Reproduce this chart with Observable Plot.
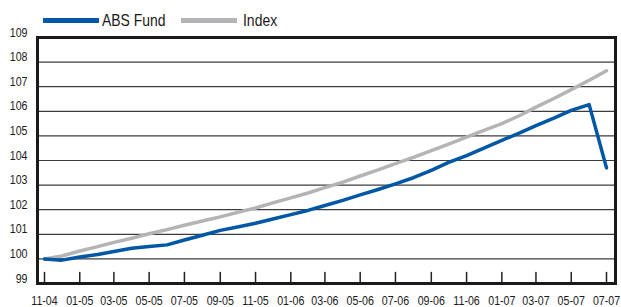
<!DOCTYPE html>
<html><head><meta charset="utf-8">
<script src="https://cdn.jsdelivr.net/npm/d3@7"></script>
<script src="https://cdn.jsdelivr.net/npm/@observablehq/plot@0.6"></script>
<style>
body{margin:0;background:#fff;font-family:"Liberation Sans",Arial,sans-serif;}
#legend{position:relative;height:25px;width:621px;}
.sw{position:absolute;top:18px;height:5px;}
.lt{position:absolute;top:11px;font-size:17px;line-height:20px;color:#1a1a1a;transform:scaleX(0.82);transform-origin:left center;white-space:nowrap;}
</style></head><body>
<div id="legend"></div>
<div id="chart"></div>
<script>
const months = ["2004-11","2004-12","2005-01","2005-02","2005-03","2005-04","2005-05","2005-06","2005-07","2005-08","2005-09","2005-10","2005-11","2005-12","2006-01","2006-02","2006-03","2006-04","2006-05","2006-06","2006-07","2006-08","2006-09","2006-10","2006-11","2006-12","2007-01","2007-02","2007-03","2007-04","2007-05","2007-06","2007-07"];
const fund = [100.0,99.95,100.08,100.18,100.3,100.43,100.5,100.57,100.77,100.96,101.16,101.3,101.45,101.62,101.8,101.98,102.17,102.38,102.6,102.82,103.05,103.3,103.6,103.92,104.2,104.5,104.82,105.12,105.42,105.72,106.04,106.27,103.7];
const indexVals = [100.0,100.12,100.32,100.5,100.67,100.84,101.02,101.19,101.37,101.54,101.71,101.89,102.07,102.28,102.48,102.69,102.9,103.12,103.37,103.62,103.87,104.13,104.4,104.67,104.95,105.22,105.5,105.83,106.17,106.52,106.88,107.26,107.65];
const seriesNames = ["ABS Fund","Index"];
const seriesColors = ["#0057a6","#b4b4b6"];
const xTickLabels = ["11-04","01-05","03-05","05-05","07-05","09-05","11-05","01-06","03-06","05-06","07-06","09-06","11-06","01-07","03-07","05-07","07-07"];
const yTicks = [99,100,101,102,103,104,105,106,107,108,109];

// legend
const legend = document.getElementById("legend");
const legendPos = [[43,102],[181,243]];
seriesNames.forEach((name,i)=>{
  const sw = document.createElement("div");
  sw.className = "sw";
  sw.style.left = legendPos[i][0] + "px";
  sw.style.width = "56px";
  sw.style.background = seriesColors[i];
  legend.appendChild(sw);
  const t = document.createElement("div");
  t.className = "lt";
  t.style.left = legendPos[i][1] + "px";
  t.textContent = name;
  legend.appendChild(t);
});

const parseM = d3.utcParse("%Y-%m");
const parseT = d3.utcParse("%m-%y");
const table = months.map((m,i)=>({date: parseM(m), fund: fund[i], index: indexVals[i]}));
const tickDates = xTickLabels.map(parseT);
const tickLine = {draw(context, l) { context.moveTo(0, 0); context.lineTo(0, -l); }};

const chart = Plot.plot({
  width: 621,
  height: 282,
  marginLeft: 37,
  marginRight: 6,
  marginTop: 12,
  marginBottom: 24,
  style: {fontFamily: '"Liberation Sans",Arial,sans-serif', fontSize: "13px", color: "#1a1a1a", background: "#fff"},
  x: {type: "utc", domain: [parseM(months[0]), parseM(months[months.length-1])], insetLeft: 7, insetRight: 9},
  y: {domain: [99,109]},
  marks: [
    Plot.gridY(yTicks.slice(1,-1), {stroke: "#3c3c3c", strokeOpacity: 1, strokeWidth: 1.2}),
    Plot.line(table, {x: "date", y: "index", stroke: seriesColors[1], strokeWidth: 3.5}),
    Plot.line(table, {x: "date", y: "fund", stroke: seriesColors[0], strokeWidth: 3.5}),
    Plot.vector(tickDates, {x: d=>d, frameAnchor: "bottom", length: 11, anchor: "start", rotate: 0, shape: tickLine, stroke: "#222", strokeWidth: 1.5}),
    Plot.frame({stroke: "#1a1a1a", strokeWidth: 3}),
    Plot.axisY(yTicks, {tickSize: 0, tickPadding: 10, dy: -5, fontSize: 13}),
    Plot.axisX(tickDates, {tickSize: 0, tickPadding: 12, tickFormat: d3.utcFormat("%m-%y"), fontSize: 13})
  ]
});
// condense text horizontally (narrow typeface look)
chart.querySelectorAll("text").forEach(t => {
  const x = +t.getAttribute("x") || 0;
  const tr = t.getAttribute("transform") || "";
  t.setAttribute("transform", `${tr} translate(${x},0) scale(0.82,1) translate(${-x},0)`);
});
document.getElementById("chart").appendChild(chart);
</script>
</body></html>
